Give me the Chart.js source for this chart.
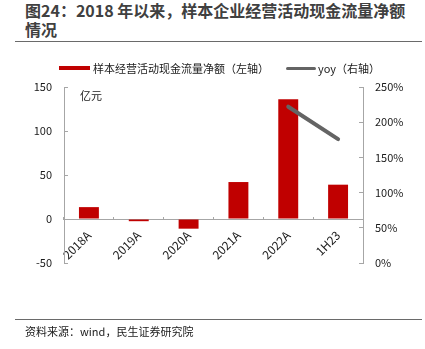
<!DOCTYPE html>
<html><head><meta charset="utf-8">
<script src="https://cdn.jsdelivr.net/npm/chart.js@4/dist/chart.umd.min.js"></script>
<style>
html,body{margin:0;padding:0;background:#fff;}
body{width:425px;height:349px;position:relative;overflow:hidden;font-family:"Noto Sans CJK SC","Noto Sans",sans-serif;}
#title{position:absolute;left:25px;top:1px;width:395px;font-weight:bold;font-size:16px;line-height:19px;color:#404040;}
.rule{position:absolute;left:15px;width:407px;height:0;border-top:1.5px solid #6a6a6a;}
#legend{position:absolute;top:59px;left:0;width:425px;height:20px;font-size:11px;color:#1a1a1a;}
.sw{position:absolute;}
.lt{position:absolute;top:0;line-height:18px;white-space:nowrap;}
#unit{position:absolute;left:80px;top:87px;font-size:11px;color:#1a1a1a;}
#source{position:absolute;left:25px;top:323px;font-size:11px;color:#1a1a1a;white-space:nowrap;}
canvas{position:absolute;left:0;top:0;}
</style></head>
<body>
<div id="title">图24：2018 年以来，样本企业经营活动现金流量净额情况</div>
<div class="rule" style="top:41px"></div>
<div class="wrap" style="position:absolute;left:0;top:0;width:425px;height:349px;"><canvas id="c" width="425" height="349"></canvas></div>
<div id="legend">
  <div class="sw" style="left:59px;top:7px;width:31px;height:4px;background:#C00000"></div>
  <div class="lt" style="left:93px">样本经营活动现金流量净额（左轴）</div>
  <div class="sw" style="left:286px;top:7.5px;width:30px;height:3px;border-radius:2px;background:#646464"></div>
  <div class="lt" style="left:318px">yoy（右轴）</div>
</div>
<div id="unit">亿元</div>
<div class="rule" style="top:319px"></div>
<div id="source">资料来源：wind，民生证券研究院</div>
<script>
const categories = ['2018A','2019A','2020A','2021A','2022A','1H23'];
const cashflow = [13.5, -2.5, -11, 42, 136, 39];
const yoy = [null, null, null, null, 222, 176];
const leftTicks = [-50, 0, 50, 100, 150];
const rightTicks = [0, 50, 100, 150, 200, 250];

const axisColor = '#a6a6a6';
const tickFont = {family: '"Noto Sans CJK SC","Noto Sans",sans-serif', size: 11};
const xFont = {family: '"Noto Sans CJK SC","Noto Sans",sans-serif', size: 12};

new Chart(document.getElementById('c'), {
  data: {
    labels: categories,
    datasets: [
      {type: 'line', label: 'yoy（右轴）', data: yoy, yAxisID: 'y1', borderColor: '#646464',
       borderWidth: 4, borderCapStyle: 'round', pointRadius: 0, spanGaps: false, order: 0},
      {type: 'bar', label: '样本经营活动现金流量净额（左轴）', data: cashflow, yAxisID: 'y',
       backgroundColor: '#C00000', barPercentage: 0.4, categoryPercentage: 1, order: 1}
    ]
  },
  options: {
    responsive: false, animation: false,
    layout: {padding: {top: 87, bottom: 86, left: 0, right: 0}},
    plugins: {legend: {display: false}, tooltip: {enabled: false}},
    scales: {
      x: {
        position: {y: 0}, offset: true,
        grid: {display: true, drawOnChartArea: false, drawTicks: true, tickLength: -3, color: axisColor, offset: true},
        border: {display: true, color: axisColor, width: 1},
        ticks: {minRotation: 45, maxRotation: 45, padding: 12, color: '#1a1a1a', font: xFont, autoSkip: false}
      },
      y: {
        position: 'left', min: -50, max: 150,
        afterFit: s => { s.width = 64; },
        afterBuildTicks: s => { s.ticks = leftTicks.map(v => ({value: v})); },
        grid: {drawOnChartArea: false, drawTicks: true, tickLength: -4, color: axisColor},
        border: {display: true, color: axisColor, width: 1},
        ticks: {padding: 16, color: '#1a1a1a', font: tickFont}
      },
      y1: {
        position: 'right', min: 0, max: 250,
        afterFit: s => { s.width = 62; },
        afterBuildTicks: s => { s.ticks = rightTicks.map(v => ({value: v})); },
        grid: {drawOnChartArea: false, drawTicks: true, tickLength: -4, color: axisColor},
        border: {display: true, color: axisColor, width: 1},
        ticks: {padding: 16, color: '#1a1a1a', font: tickFont, callback: v => v + '%'}
      }
    }
  }
});
</script>
</body></html>
